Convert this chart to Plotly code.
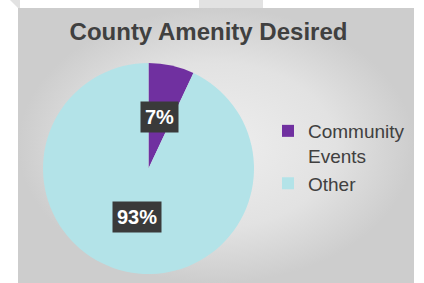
import math
import plotly.graph_objects as go

# ---- data ----
categories = ["Community<br>Events", "Other"]
values = [7, 93]
colors = ["#7030A0", "#B3E3E8"]
title_text = "County Amenity Desired"

# ---- geometry / style constants ----
W, H = 424, 283
PIE_LEFT, PIE_RIGHT, PIE_TOP, PIE_BOTTOM = 43, 254, 63, 274
PANEL = (18, 8, 414, 283)
LABEL_FRAC = 0.49
FONT = "Arial, Liberation Sans, sans-serif"

cx = (PIE_LEFT + PIE_RIGHT) / 2
cy = (PIE_TOP + PIE_BOTTOM) / 2
R = (PIE_RIGHT - PIE_LEFT) / 2


def px_x(x):
    return x / W


def px_y(y):
    return 1 - y / H


fig = go.Figure()

# background panel with radial gradient (decoration)
fig.add_trace(go.Scatter(
    x=[PANEL[0], PANEL[2], PANEL[2], PANEL[0], PANEL[0]],
    y=[PANEL[1], PANEL[1], PANEL[3], PANEL[3], PANEL[1]],
    mode="lines", line=dict(width=0), fill="toself",
    fillgradient=dict(type="radial",
                      colorscale=[[0, "#eeeeee"], [0.6, "#e2e2e2"], [1, "#cdcdcd"]]),
    hoverinfo="skip", showlegend=False,
))

fig.add_trace(go.Pie(
    labels=categories,
    values=values,
    marker=dict(colors=colors, line=dict(width=0)),
    sort=False,
    direction="clockwise",
    rotation=0,
    textinfo="none",
    hoverinfo="label+percent",
    domain=dict(x=[px_x(PIE_LEFT), px_x(PIE_RIGHT)],
                y=[px_y(PIE_BOTTOM), px_y(PIE_TOP)]),
))

# data labels computed from the values
total = sum(values)
annotations = []
cum = 0
for v in values:
    mid = (cum + v / 2) / total * 2 * math.pi
    cum += v
    lx = cx + R * LABEL_FRAC * math.sin(mid)
    ly = cy - R * LABEL_FRAC * math.cos(mid) - 1.5
    txt = f"<b>{round(v / total * 100)}%</b>"
    annotations.append(dict(
        x=px_x(lx), y=px_y(ly), xref="paper", yref="paper",
        xanchor="center", yanchor="middle",
        text=txt, showarrow=False, bgcolor="#3a3a3a", borderpad=4,
        font=dict(family=FONT, size=20, color="white"),
    ))

shapes = [
    # soft shadow around pie
    dict(type="circle", xref="paper", yref="paper", layer="below",
         x0=px_x(cx - R - 3), x1=px_x(cx + R + 3),
         y0=px_y(cy + R + 3), y1=px_y(cy - R - 3),
         fillcolor="rgba(190,150,150,0.15)", line=dict(width=0)),
    # faint slide decorations at the top
    dict(type="rect", xref="paper", yref="paper", layer="below",
         x0=px_x(199), x1=px_x(263), y0=px_y(8), y1=1,
         fillcolor="#e2e2e2", line=dict(width=0)),
    dict(type="path", xref="paper", yref="paper", layer="below",
         path=f"M {px_x(10)},1 L {px_x(20)},1 L {px_x(20)},{px_y(8)} L {px_x(18)},{px_y(8)} Z",
         fillcolor="#e2e2e2", line=dict(width=0)),
]

fig.update_layout(
    width=W, height=H,
    margin=dict(l=0, r=0, t=0, b=0),
    paper_bgcolor="white",
    plot_bgcolor="rgba(0,0,0,0)",
    xaxis=dict(visible=False, range=[0, W], fixedrange=True),
    yaxis=dict(visible=False, range=[H, 0], fixedrange=True),
    title=dict(text=f"<b>{title_text}</b>", x=0.4917, xanchor="center",
               y=px_y(32), yanchor="middle", yref="paper",
               font=dict(family=FONT, size=24, color="#404040")),
    legend=dict(x=px_x(268), xanchor="left", y=px_y(112), yanchor="top",
                valign="top", bgcolor="rgba(0,0,0,0)",
                font=dict(family=FONT, size=19, color="#404040"),
                itemwidth=30),
    annotations=annotations,
    shapes=shapes,
)

fig.write_html("out.html", config={"displayModeBar": False},
               post_script="document.body.style.margin='0';")
